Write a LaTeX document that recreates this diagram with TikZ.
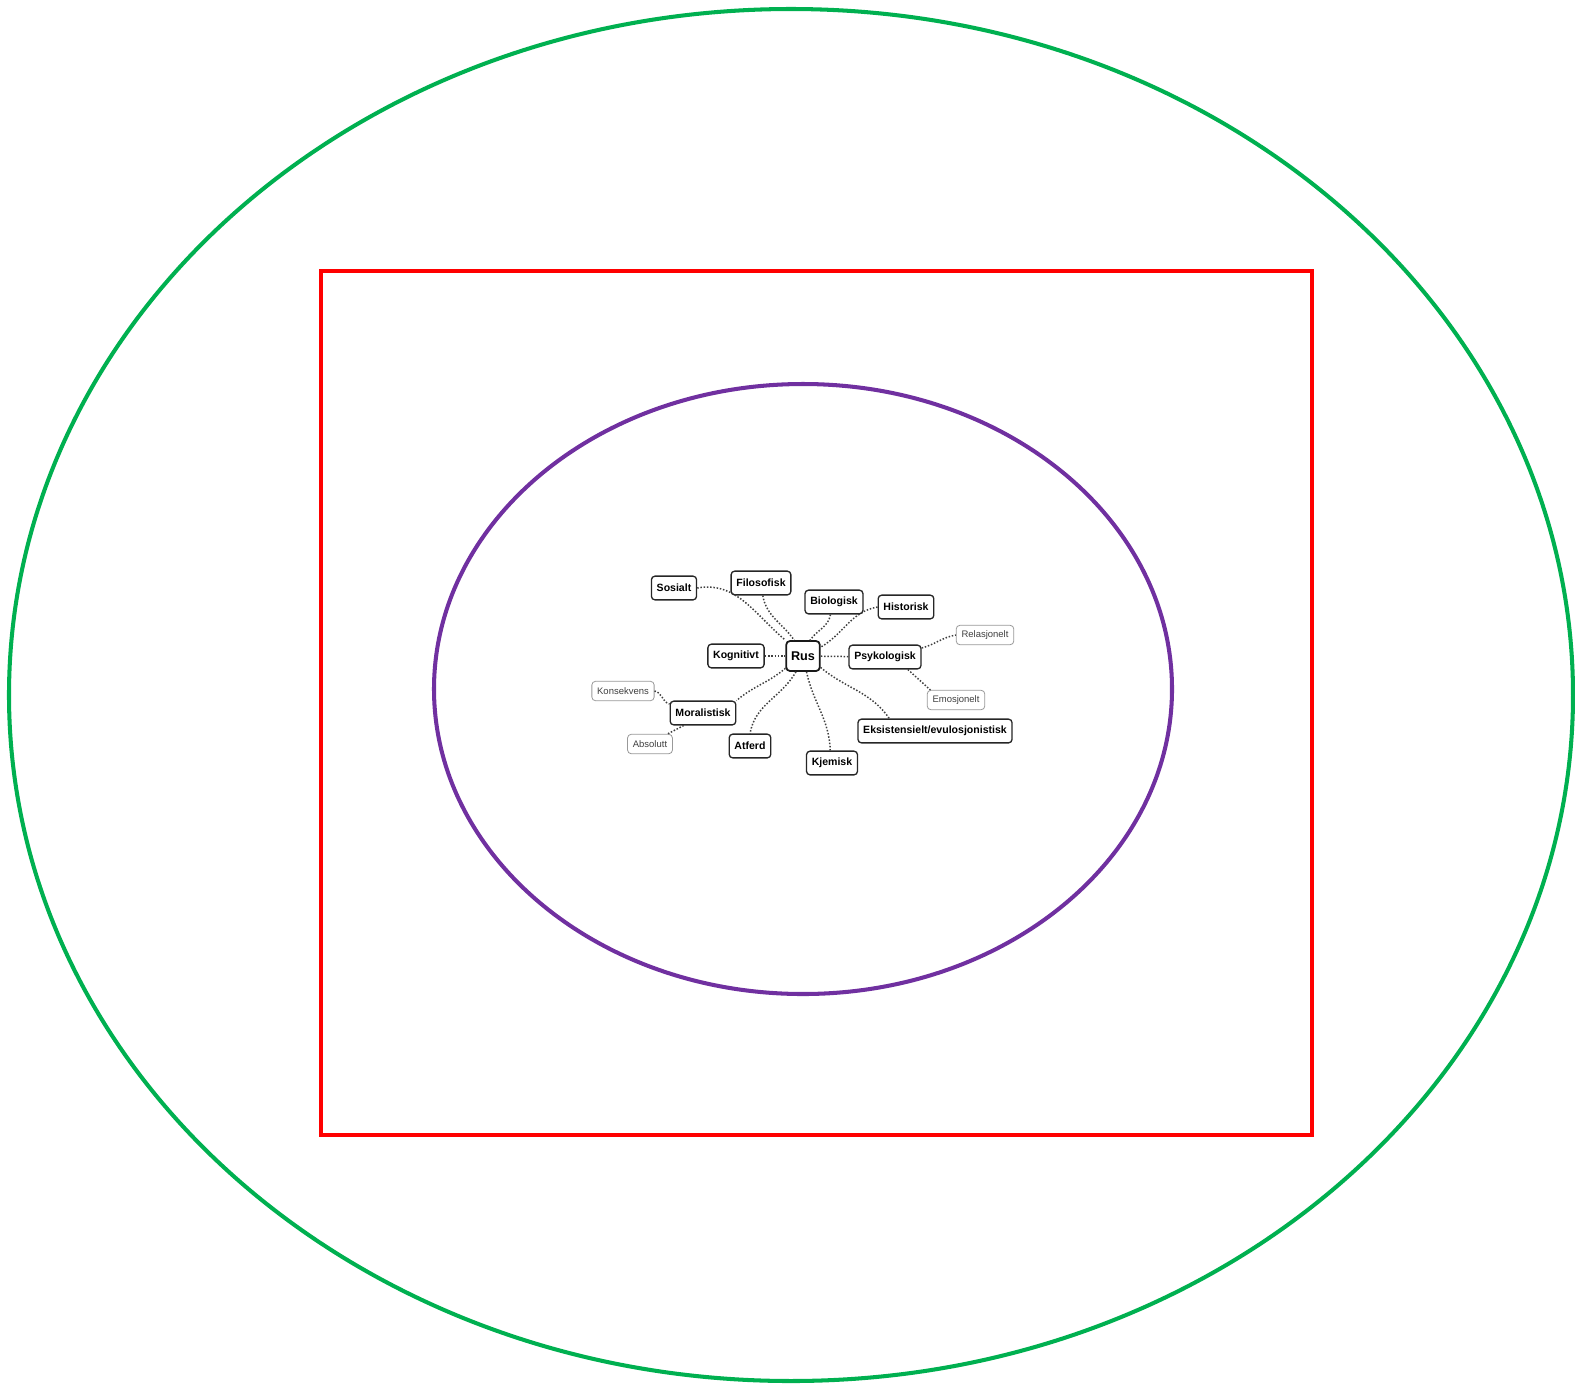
\documentclass[tikz,border=0pt]{standalone}
\usepackage{fontspec}
\setmainfont{Liberation Sans}
\usetikzlibrary{positioning}
\definecolor{ringGreen}{RGB}{0,176,80}
\definecolor{frameRed}{RGB}{255,0,0}
\definecolor{corePurple}{RGB}{112,48,160}
\tikzset{
  ring/.style={line width=2.3pt},
  topic/.style={draw=black!85, rounded corners=2pt, line width=0.75pt, fill=white, inner xsep=3pt, inner ysep=0pt, minimum height=13.5pt, font=\fontsize{6}{7}\selectfont\bfseries},
  sub/.style={draw=black!40, rounded corners=2pt, line width=0.45pt, fill=white, inner xsep=3pt, inner ysep=0pt, minimum height=11pt, text=black!75, font=\fontsize{5.4}{6}\selectfont},
  hub/.style={draw=black!90, rounded corners=2pt, line width=1pt, fill=white, minimum width=19pt, minimum height=17pt, inner sep=1pt, font=\fontsize{7.2}{8}\selectfont\bfseries},
  link/.style={densely dotted, line width=0.85pt, draw=black!75}
}

\begin{document}
\begin{tikzpicture}[x=0.02cm, y=-0.02cm]
  \useasboundingbox (0,0) rectangle (1575,1384);
  % frames
  \draw[ring, ringGreen] (791,695) ellipse [x radius=782, y radius=686];
  \draw[ring, frameRed] (321,271) rectangle (1312,1135);
  \draw[ring, corePurple] (803,689) ellipse [x radius=369, y radius=305];

  % mind map
  \node[hub] (rus) at (803,656) {Rus};
  \node[topic] (sosialt) at (674,588) {Sosialt};
  \node[topic] (filosofisk) at (761,583) {Filosofisk};
  \node[topic] (biologisk) at (834,602) {Biologisk};
  \node[topic] (historisk) at (906,607) {Historisk};
  \node[topic] (kognitivt) at (736,656) {Kognitivt};
  \node[topic] (psykologisk) at (885,657) {Psykologisk};
  \node[topic] (eksistens) at (935,731) {Eksistensielt/evulosjonistisk};
  \node[topic] (kjemisk) at (832,763) {Kjemisk};
  \node[topic] (atferd) at (750,746) {Atferd};
  \node[topic] (moral) at (703,713) {Moralistisk};
  \node[sub] (relasjon) at (985,635) {Relasjonelt};
  \node[sub] (emosjon) at (956,700) {Emosjonelt};
  \node[sub] (konsekvens) at (623,691) {Konsekvens};
  \node[sub] (absolutt) at (650,744) {Absolutt};

  \draw[link] (sosialt.east) to[out=10, in=140] (rus.north west);
  \draw[link] ([xshift=1pt]filosofisk.south) to[out=-80, in=125] ([xshift=-5pt]rus.north);
  \draw[link] ([xshift=-2pt]biologisk.south) to[out=-100, in=55] ([xshift=4pt]rus.north);
  \draw[link] (historisk.west) to[out=190, in=30] ([yshift=-4pt]rus.north east);
  \draw[link] (kognitivt) -- (rus);
  \draw[link] (psykologisk) -- (rus);
  \draw[link] ([yshift=-2pt]psykologisk.north east) to[out=15, in=190] (relasjon.west);
  \draw[link] ([xshift=13pt]psykologisk.south) -- ([xshift=2pt]emosjon.north west);
  \draw[link] ([yshift=2.5pt]rus.south east) to[out=-40, in=125] ([xshift=-26pt]eksistens.north);
  \draw[link] ([xshift=2pt]rus.south) to[out=-78, in=92] ([xshift=-1pt]kjemisk.north);
  \draw[link] ([xshift=-4pt]rus.south) to[out=-120, in=80] (atferd.north);
  \draw[link] ([yshift=2pt]rus.south west) to[out=-140, in=40] (moral.north east);
  \draw[link] (konsekvens.east) to[out=-10, in=165] ([yshift=-2pt]moral.north west);
  \draw[link] ([xshift=-11pt]moral.south) -- ([xshift=-3pt]absolutt.north east);
\end{tikzpicture}
\end{document}
